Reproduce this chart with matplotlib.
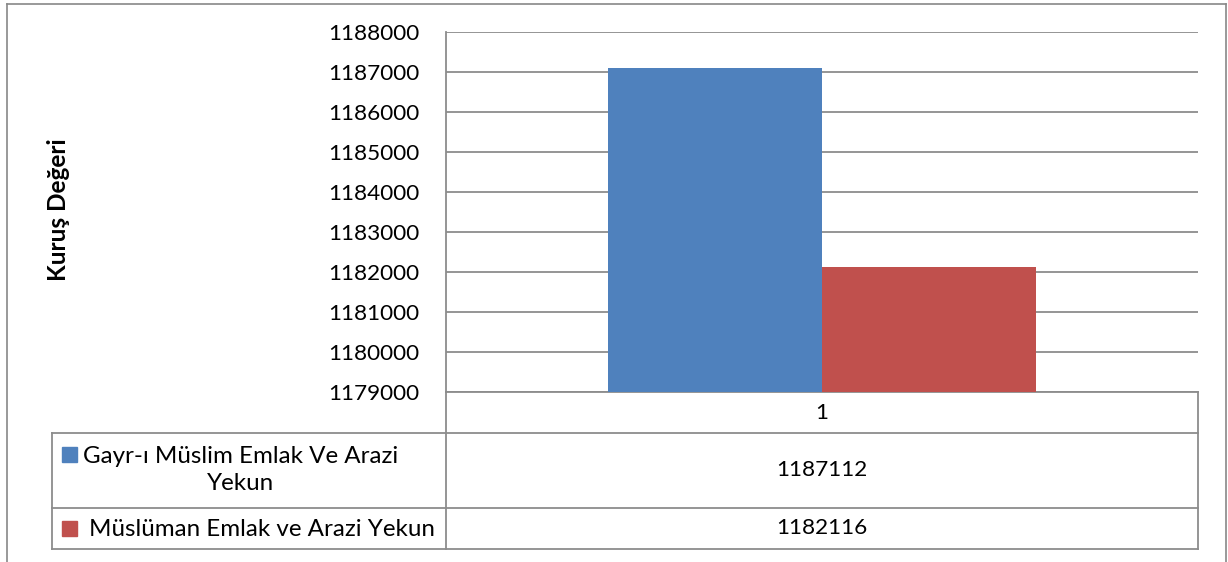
import matplotlib
matplotlib.use("Agg")
import matplotlib.pyplot as plt
from matplotlib.patches import Rectangle

# ---- data ----
categories = ["1"]
series_names = ["Gayr-ı Müslim Emlak Ve Arazi\nYekun", "Müslüman Emlak ve Arazi Yekun"]
series_values = [1187112, 1182116]
series_colors = ["#4F81BD", "#C0504D"]
y_ticks = [1179000, 1180000, 1181000, 1182000, 1183000, 1184000, 1185000, 1186000, 1187000, 1188000]
y_label = "Kuruş Değeri"

plt.rcParams['font.family'] = ['Lato', 'DejaVu Sans']
FS = 16.2
FS_NAME = 17.4
W, H = 1228, 562
fig = plt.figure(figsize=(W / 100, H / 100), dpi=100)
fig.patch.set_facecolor("white")

# plot area (pixel layout)
L, R, T, B = 446, 1198, 32, 392
ax = fig.add_axes([L / W, (H - B) / H, (R - L) / W, (B - T) / H])
grid_c = "#8c8c8c"
bw = 0.2846
n = len(series_values)
for i, (v, c) in enumerate(zip(series_values, series_colors)):
    x = (i - (n - 1) / 2) * bw
    ax.bar(x, v, width=bw, color=c, zorder=3)
ax.set_xlim(-0.5, 0.5)
ax.set_ylim(y_ticks[0], y_ticks[-1])
ax.set_yticks(y_ticks)
ax.set_yticklabels([str(t) for t in y_ticks], fontsize=FS)
ax.set_xticks([])
ax.tick_params(axis='y', length=0, pad=19)
ax.grid(axis='y', color=grid_c, lw=1.3, zorder=1)
for s in ["top", "right"]:
    ax.spines[s].set_visible(False)
ax.spines["left"].set_color(grid_c)
ax.spines["left"].set_linewidth(1.3)
ax.spines["bottom"].set_color(grid_c)
ax.spines["bottom"].set_linewidth(1.3)
ax.set_ylabel(y_label, fontsize=17.6, fontweight="bold")
ax.yaxis.set_label_coords((70 - L) / (R - L), (B - 210) / (B - T))

# overlay in pixel coordinates for the data table and border
ov = fig.add_axes([0, 0, 1, 1], zorder=5)
ov.set_xlim(0, W)
ov.set_ylim(H, 0)
ov.axis("off")
ov.patch.set_alpha(0)

lc = dict(color=grid_c, lw=1.3)
# outer chart border
ov.plot([7, 7], [4, H + 5], color="#888888", lw=1.2)
ov.plot([7, 1226], [4, 4], color="#888888", lw=1.2)
ov.plot([1226, 1226], [4, H + 5], color="#888888", lw=1.2)

# table grid
rows_y = [392, 433, 508, 549]
ov.plot([L, L], [392, 549], **lc)
ov.plot([R, R], [392, 549], **lc)
for yy in rows_y[1:]:
    ov.plot([52, R], [yy, yy], **lc)
ov.plot([52, 52], [433, 549], **lc)

cx = (L + R) / 2
ov.text(cx, 413, categories[0], ha="center", va="center", fontsize=FS)
row_centers = [(433 + 508) / 2, (508 + 549) / 2]
for i, (name, v, c) in enumerate(zip(series_names, series_values, series_colors)):
    yc = row_centers[i]
    ov.text(cx, yc, str(v), ha="center", va="center", fontsize=FS)

# legend keys + names
ov.add_patch(Rectangle((62, 447), 15, 15, color=series_colors[0]))
ov.text(241, 470, series_names[0], ha="center", va="center", fontsize=FS_NAME,
        multialignment="center", linespacing=1.35)
ov.add_patch(Rectangle((62, 521), 15, 15, color=series_colors[1]))
ov.text(89, 529, series_names[1], ha="left", va="center", fontsize=FS_NAME)

fig.savefig("out.png", dpi=100, facecolor="white")
